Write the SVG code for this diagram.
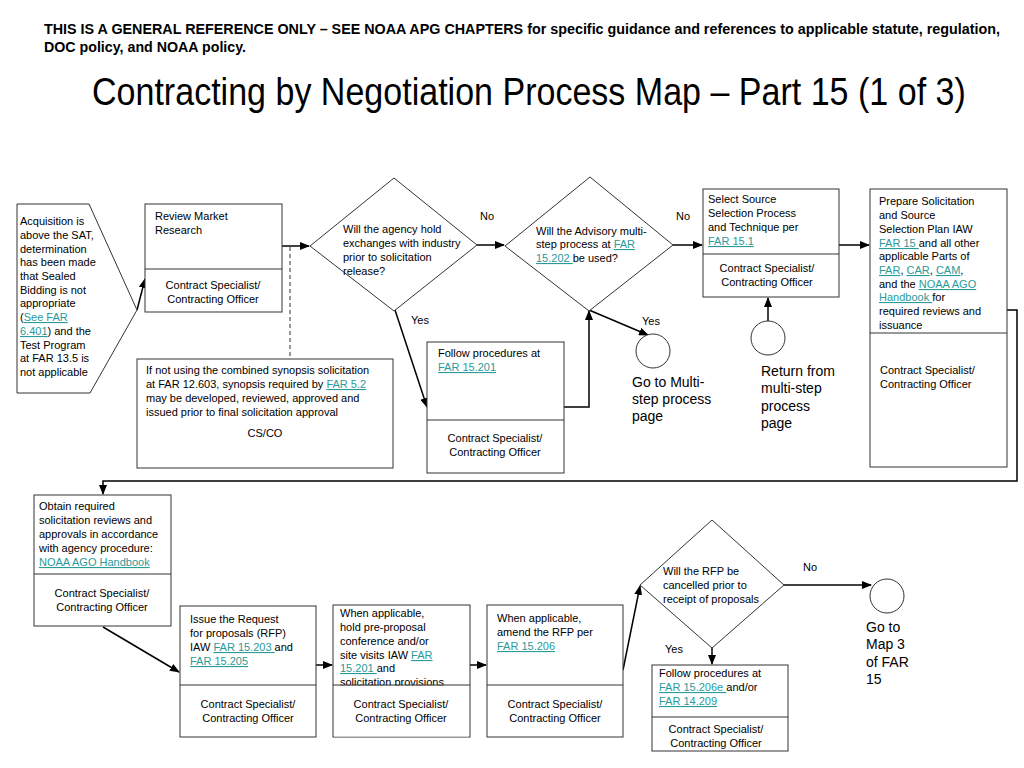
<svg xmlns="http://www.w3.org/2000/svg" width="1024" height="768" viewBox="0 0 1024 768">
<style>
.box{fill:#fff;stroke:#333;stroke-width:1}
.t{font-family:"Liberation Sans",Arial,Helvetica,sans-serif;font-size:11px;fill:#000}
.c{font-family:"Liberation Sans",Arial,Helvetica,sans-serif;font-size:14px;fill:#000}
.lk{fill:#2a9a9a;text-decoration:underline}
.conn{stroke:#000;stroke-width:1.5;fill:none;marker-end:url(#arr)}
.dash{stroke:#777;stroke-width:1.5;fill:none;stroke-dasharray:4,3}
.hdr{font-family:"Liberation Sans",Arial,Helvetica,sans-serif;font-size:14px;font-weight:bold;fill:#000}
.ttl{font-family:"Liberation Sans",Arial,Helvetica,sans-serif;font-size:38px;fill:#000}
</style>
<defs>
<marker id="arr" markerWidth="10" markerHeight="8" refX="9" refY="4" orient="auto" markerUnits="userSpaceOnUse">
<path d="M0,0 L10,4 L0,8 z" fill="#000"/>
</marker>
</defs>
<rect width="1024" height="768" fill="#fff"/>
<text class="hdr" x="44" y="34" textLength="956" lengthAdjust="spacingAndGlyphs">THIS IS A GENERAL REFERENCE ONLY – SEE NOAA APG CHAPTERS for specific guidance and references to applicable statute, regulation,</text>
<text class="hdr" x="44" y="52" textLength="202" lengthAdjust="spacingAndGlyphs">DOC policy, and NOAA policy.</text>
<text class="ttl" transform="translate(92,105) scale(0.85,1)" x="0" y="0" textLength="1028" lengthAdjust="spacingAndGlyphs">Contracting by Negotiation Process Map – Part 15 (1 of 3)</text>

<g id="connectors">
<path class="conn" d="M137,310 L145,279"/>
<path class="conn" d="M282,246 L309,246"/>
<path class="dash" d="M290,247 L290,358"/>
<path class="conn" d="M477,245 L504,245"/>
<path class="conn" d="M395,310 L427,407"/>
<path class="conn" d="M673,245 L702,245"/>
<path class="conn" d="M589,310 L648,335"/>
<path class="conn" d="M564,407 L589,407 L589,311"/>
<path class="conn" d="M768,321 L768,298"/>
<path class="conn" d="M839,245 L869,245"/>
<path class="conn" d="M1007,310 L1017,310 L1017,481 L103,481 L103,494"/>
<path class="conn" d="M103,627 L179,672"/>
<path class="conn" d="M316,665 L332,665"/>
<path class="conn" d="M470,665 L486,665"/>
<path class="conn" d="M623,670 L640,586"/>
<path class="conn" d="M784,585 L871,585"/>
<path class="conn" d="M712,647 L712,664"/>
</g>
<g id="labels">
<text class="t" x="480" y="220">No</text>
<text class="t" x="676" y="220">No</text>
<text class="t" x="411" y="324">Yes</text>
<text class="t" x="642" y="325">Yes</text>
<text class="t" x="803" y="571">No</text>
<text class="t" x="665" y="653">Yes</text>
</g>

<g id="start">
<path class="box" d="M17,204 L89,204 L137,310 L90,393 L17,393 Z"/>
<text class="t" x="20"><tspan x="20" y="225">Acquisition is</tspan><tspan x="20" y="239">above the SAT,</tspan><tspan x="20" y="253">determination</tspan><tspan x="20" y="266">has been made</tspan><tspan x="20" y="280">that Sealed</tspan><tspan x="20" y="294">Bidding is not</tspan><tspan x="20" y="307">appropriate</tspan><tspan x="20" y="321">(<tspan class="lk">See FAR</tspan></tspan><tspan x="20" y="335"><tspan class="lk">6.401</tspan>) and the</tspan><tspan x="20" y="349">Test Program</tspan><tspan x="20" y="362">at FAR 13.5 is</tspan><tspan x="20" y="376">not applicable</tspan></text>
</g>

<g id="review">
<rect class="box" x="145" y="204" width="137" height="108"/>
<line class="box" x1="145" y1="269" x2="282" y2="269"/>
<text class="t"><tspan x="155" y="220">Review Market</tspan><tspan x="155" y="234">Research</tspan></text>
<text class="t" text-anchor="middle"><tspan x="213" y="289">Contract Specialist/</tspan><tspan x="213" y="303">Contracting Officer</tspan></text>
</g>

<g id="synopsis">
<rect class="box" x="137" y="359" width="256" height="109"/>
<text class="t"><tspan x="146" y="374">If not using the combined synopsis solicitation</tspan><tspan x="146" y="388">at FAR 12.603, synopsis required by <tspan class="lk">FAR 5.2</tspan></tspan><tspan x="146" y="402">may be developed, reviewed, approved and</tspan><tspan x="146" y="416">issued prior to final solicitation approval</tspan></text>
<text class="t" x="265" y="437" text-anchor="middle">CS/CO</text>
</g>

<g id="decision1">
<path class="box" d="M394,178 L477,245 L394,311 L310,246 Z"/>
<text class="t"><tspan x="343" y="233">Will the agency hold</tspan><tspan x="343" y="247">exchanges with industry</tspan><tspan x="343" y="261">prior to solicitation</tspan><tspan x="343" y="275">release?</tspan></text>
</g>

<g id="decision2">
<path class="box" d="M590,177 L673,245 L589,311 L505,246 Z"/>
<text class="t"><tspan x="536" y="235">Will the Advisory multi-</tspan><tspan x="536" y="248">step process at <tspan class="lk">FAR</tspan></tspan><tspan x="536" y="262"><tspan class="lk">15.202 </tspan>be used?</tspan></text>
</g>

<g id="follow1">
<rect class="box" x="427" y="342" width="137" height="131"/>
<line class="box" x1="427" y1="420" x2="564" y2="420"/>
<text class="t"><tspan x="438" y="357">Follow procedures at</tspan><tspan x="438" y="371" class="lk">FAR 15.201</tspan></text>
<text class="t" text-anchor="middle"><tspan x="495" y="442">Contract Specialist/</tspan><tspan x="495" y="456">Contracting Officer</tspan></text>
</g>

<g id="gotoMulti">
<circle class="box" cx="653" cy="351" r="17"/>
<text class="c"><tspan x="632" y="387">Go to Multi-</tspan><tspan x="632" y="404">step process</tspan><tspan x="632" y="421">page</tspan></text>
</g>

<g id="select">
<rect class="box" x="703" y="189" width="136" height="108"/>
<line class="box" x1="703" y1="254" x2="839" y2="254"/>
<text class="t"><tspan x="708" y="203">Select Source</tspan><tspan x="708" y="217">Selection Process</tspan><tspan x="708" y="231">and Technique per</tspan><tspan x="708" y="245" class="lk">FAR 15.1</tspan></text>
<text class="t" text-anchor="middle"><tspan x="767" y="272">Contract Specialist/</tspan><tspan x="767" y="286">Contracting Officer</tspan></text>
</g>

<g id="returnMulti">
<circle class="box" cx="768" cy="338" r="17"/>
<text class="c"><tspan x="761" y="376">Return from</tspan><tspan x="761" y="393">multi-step</tspan><tspan x="761" y="411">process</tspan><tspan x="761" y="428">page</tspan></text>
</g>

<g id="prepare">
<rect class="box" x="870" y="189" width="137" height="278"/>
<line class="box" x1="870" y1="333" x2="1007" y2="333"/>
<text class="t"><tspan x="879" y="205">Prepare Solicitation</tspan><tspan x="879" y="219">and Source</tspan><tspan x="879" y="233">Selection Plan IAW</tspan><tspan x="879" y="247"><tspan class="lk">FAR 15 </tspan>and all other</tspan><tspan x="879" y="260">applicable Parts of</tspan><tspan x="879" y="274"><tspan class="lk">FAR</tspan>, <tspan class="lk">CAR</tspan>, <tspan class="lk">CAM</tspan>,</tspan><tspan x="879" y="288">and the <tspan class="lk">NOAA AGO</tspan></tspan><tspan x="879" y="301"><tspan class="lk">Handbook </tspan>for</tspan><tspan x="879" y="315">required reviews and</tspan><tspan x="879" y="329">issuance</tspan></text>
<text class="t"><tspan x="880" y="374">Contract Specialist/</tspan><tspan x="880" y="388">Contracting Officer</tspan></text>
</g>

<g id="obtain">
<rect class="box" x="34" y="495" width="137" height="131"/>
<line class="box" x1="34" y1="574" x2="171" y2="574"/>
<text class="t"><tspan x="39" y="510">Obtain required</tspan><tspan x="39" y="524">solicitation reviews and</tspan><tspan x="39" y="538">approvals in accordance</tspan><tspan x="39" y="552">with agency procedure:</tspan><tspan x="39" y="566" class="lk">NOAA AGO Handbook</tspan></text>
<text class="t" text-anchor="middle"><tspan x="102" y="597">Contract Specialist/</tspan><tspan x="102" y="611">Contracting Officer</tspan></text>
</g>

<g id="issue">
<rect class="box" x="180" y="606" width="136" height="131"/>
<line class="box" x1="180" y1="685" x2="316" y2="685"/>
<text class="t"><tspan x="190" y="623">Issue the Request</tspan><tspan x="190" y="637">for proposals (RFP)</tspan><tspan x="190" y="651">IAW <tspan class="lk">FAR 15.203 </tspan>and</tspan><tspan x="190" y="665" class="lk">FAR 15.205</tspan></text>
<text class="t" text-anchor="middle"><tspan x="248" y="708">Contract Specialist/</tspan><tspan x="248" y="722">Contracting Officer</tspan></text>
</g>

<g id="preproposal">
<rect class="box" x="333" y="605" width="137" height="132"/>
<text class="t"><tspan x="340" y="617">When applicable,</tspan><tspan x="340" y="631">hold pre-proposal</tspan><tspan x="340" y="645">conference and/or</tspan><tspan x="340" y="659">site visits IAW <tspan class="lk">FAR</tspan></tspan><tspan x="340" y="672"><tspan class="lk">15.201 </tspan>and</tspan><tspan x="340" y="686">solicitation provisions</tspan></text>
<rect x="334" y="685.5" width="135" height="51" fill="#fff"/>
<line class="box" x1="333" y1="685" x2="470" y2="685"/>
<text class="t" text-anchor="middle"><tspan x="401" y="708">Contract Specialist/</tspan><tspan x="401" y="722">Contracting Officer</tspan></text>
</g>

<g id="amend">
<rect class="box" x="487" y="605" width="136" height="132"/>
<line class="box" x1="487" y1="685" x2="623" y2="685"/>
<text class="t"><tspan x="497" y="622">When applicable,</tspan><tspan x="497" y="636">amend the RFP per</tspan><tspan x="497" y="650" class="lk">FAR 15.206</tspan></text>
<text class="t" text-anchor="middle"><tspan x="555" y="708">Contract Specialist/</tspan><tspan x="555" y="722">Contracting Officer</tspan></text>
</g>

<g id="decision3">
<path class="box" d="M712,520 L784,585 L712,648 L640,585 Z"/>
<text class="t"><tspan x="663" y="575">Will the RFP be</tspan><tspan x="663" y="589">cancelled prior to</tspan><tspan x="663" y="603">receipt of proposals</tspan></text>
</g>

<g id="gotoMap3">
<circle class="box" cx="887" cy="596" r="17"/>
<text class="c"><tspan x="866" y="632">Go to</tspan><tspan x="866" y="649">Map 3</tspan><tspan x="866" y="667">of FAR</tspan><tspan x="866" y="684">15</tspan></text>
</g>

<g id="follow2">
<rect class="box" x="652" y="665" width="136" height="86"/>
<line class="box" x1="652" y1="717" x2="788" y2="717"/>
<text class="t"><tspan x="659" y="677">Follow procedures at</tspan><tspan x="659" y="691"><tspan class="lk">FAR 15.206e </tspan>and/or</tspan><tspan x="659" y="705" class="lk">FAR 14.209</tspan></text>
<text class="t" text-anchor="middle"><tspan x="716" y="733">Contract Specialist/</tspan><tspan x="716" y="747">Contracting Officer</tspan></text>
</g>
</svg>
